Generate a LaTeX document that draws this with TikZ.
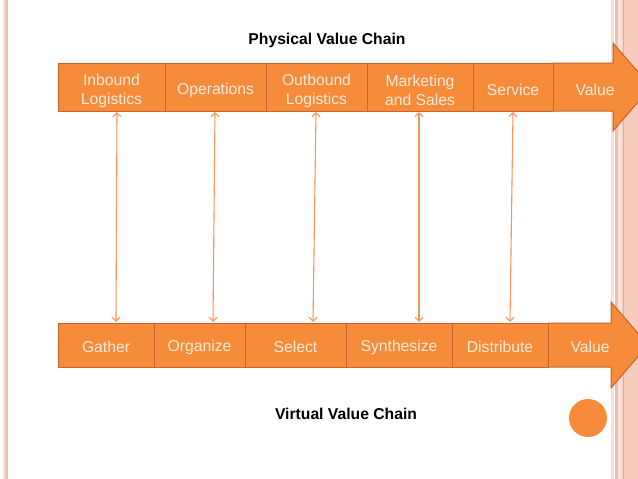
\documentclass[tikz,border=0pt]{standalone}
\usepackage{fontspec}
\setmainfont{Liberation Sans}
\usetikzlibrary{arrows.meta}
\definecolor{boxfill}{HTML}{F68B3A}
\definecolor{boxline}{HTML}{C4652C}
\definecolor{boxtext}{HTML}{FCEBDC}
\definecolor{linkcol}{HTML}{F2965A}
\definecolor{pinkA}{HTML}{FBE2D6}
\definecolor{pinkB}{HTML}{F2BFAE}
\definecolor{pinkC}{HTML}{F9CDBD}
\definecolor{pinkD}{HTML}{EEAA93}
\tikzset{
  chainbox/.style={draw=boxline, line width=1pt, fill=boxfill, inner sep=0pt},
  toprow/.style={chainbox, minimum height=48pt},
  botrow/.style={chainbox, minimum height=44pt},
  boxlabel/.style={text=boxtext, align=center, inner sep=0pt, font=\fontsize{15.7}{19}\selectfont},
  bigarrow/.style={draw=boxline, line width=1pt, fill=boxfill},
  arrowlabel/.style={text=boxtext, font=\fontsize{15.7}{19}\selectfont, inner sep=0pt},
  title/.style={font=\bfseries\fontsize{15.7}{19}\selectfont, inner sep=0pt},
  link/.style={draw=linkcol, line width=1.1pt, {Straight Barb[length=4pt,width=8pt]}-{Straight Barb[length=4pt,width=8pt]}},
}
\begin{document}
\begin{tikzpicture}[x=1pt,y=-1pt]
\useasboundingbox (0,0) rectangle (638,479);
\fill[white] (0,0) rectangle (638,479);
% side stripes
\fill[pinkA] (3,0) rectangle (5,479);
\fill[pinkB] (5,0) rectangle (7.5,479);
\fill[pinkA] (611,0) rectangle (614,479);
\fill[pinkB] (614.5,0) rectangle (617.5,479);
\fill[pinkA] (618,0) rectangle (622,479);
\fill[pinkC] (622,0) rectangle (638,479);
\fill[pinkD] (622.5,0) rectangle (624,479);

% titles
\node[title] (ptitle) at (327,40) {Physical Value Chain};
\node[title] (vtitle) at (346,414) {Virtual Value Chain};

% physical chain arrow
\path[bigarrow] (553,63) -- (613,63) -- (613,43) -- (651,87) -- (613,131) -- (613,111) -- (553,111) -- cycle;
\node[arrowlabel] (pvalue) at (595,89.5) {Value};
\node[toprow, minimum width=107pt, label={[boxlabel, yshift=-3.5pt]center:Inbound\\Logistics}] (inb) at (111.5,87) {};
\node[toprow, minimum width=101pt, label={[boxlabel, yshift=-3pt]center:Operations}] (ops) at (215.5,87) {};
\node[toprow, minimum width=101pt, label={[boxlabel, yshift=-3.5pt]center:Outbound\\Logistics}] (outb) at (316.5,87) {};
\node[toprow, minimum width=106pt, label={[boxlabel, yshift=-3.5pt]center:Marketing\\and Sales}] (mkt) at (420,87) {};
\node[toprow, minimum width=80pt, label={[boxlabel, yshift=-3pt]center:Service}] (srv) at (513,87) {};

% virtual chain arrow
\path[bigarrow] (548,323) -- (611,323) -- (611,302) -- (648,345) -- (611,388) -- (611,367) -- (548,367) -- cycle;
\node[arrowlabel] (vvalue) at (590,347) {Value};
\node[botrow, minimum width=96pt, label={[boxlabel, yshift=-2pt]center:Gather}] (gat) at (106,345) {};
\node[botrow, minimum width=91pt, label={[boxlabel, yshift=-2pt]center:Organize}] (org) at (199.5,345) {};
\node[botrow, minimum width=101pt, label={[boxlabel, yshift=-2pt]center:Select}] (sel) at (295.5,345) {};
\node[botrow, minimum width=106pt, label={[boxlabel, yshift=-2pt]center:Synthesize}] (syn) at (399,345) {};
\node[botrow, minimum width=96pt, label={[boxlabel, yshift=-2pt]center:Distribute}] (dis) at (500,345) {};

% link end points
\coordinate (t1) at (117,112); \coordinate (b1) at (116,322);
\coordinate (t2) at (215,112); \coordinate (b2) at (213,322);
\coordinate (t3) at (316,112); \coordinate (b3) at (313,322);
\coordinate (t4) at (419,112); \coordinate (b4) at (419,322);
\coordinate (t5) at (513,112); \coordinate (b5) at (510,322);
\draw[link] (t1) -- (b1);
\draw[link] (t2) -- (b2);
\draw[link] (t3) -- (b3);
\draw[link] (t4) -- (b4);
\draw[link] (t5) -- (b5);

% circle
\fill[boxfill] (588,418) circle (19);
\end{tikzpicture}
\end{document}
